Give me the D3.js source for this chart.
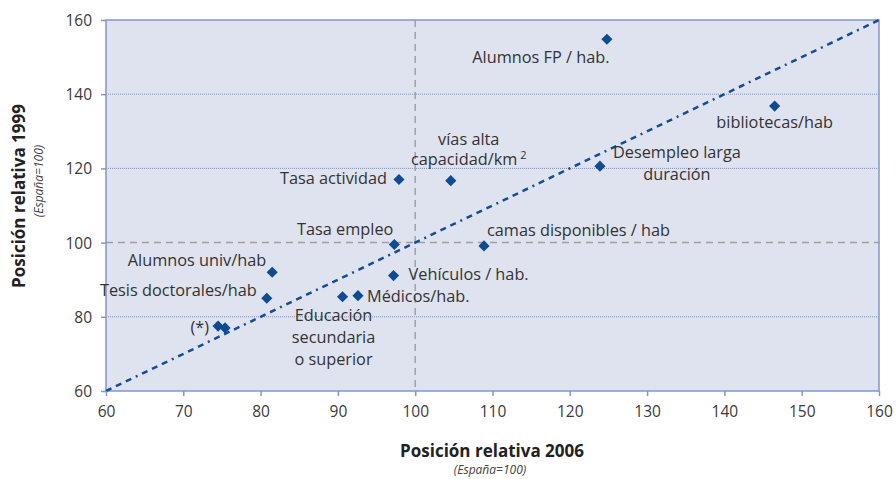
<!DOCTYPE html>
<html>
<head>
<meta charset="utf-8">
<script src="https://cdn.jsdelivr.net/npm/d3@7"></script>
<style>
  body { margin: 0; background: #fff; }
  svg { display: block; font-family: "Open Sans", sans-serif; }
</style>
</head>
<body>
<div id="chart"></div>
<script>
// values
const names = ["Alumnos FP / hab.", "bibliotecas/hab", "Desempleo larga duración", "vías alta capacidad/km2",
  "Tasa actividad", "Tasa empleo", "camas disponibles / hab", "Vehículos / hab.", "Médicos/hab.",
  "Educación secundaria o superior", "Alumnos univ/hab", "Tesis doctorales/hab", "(*) a", "(*) b"]
const pos2006 = [124.8, 146.5, 123.9, 104.6, 97.9, 97.3, 108.9, 97.2, 92.6, 90.6, 81.5, 80.8, 74.5, 75.4]
const pos1999 = [154.8, 136.8, 120.6, 116.7, 117.0, 99.5, 99.1, 91.1, 85.7, 85.4, 92.0, 85.0, 77.5, 77.0]
const labelLines = [["Alumnos FP / hab."], ["bibliotecas/hab"], ["Desempleo larga", "duración"], ["vías alta", "capacidad/km"],
  ["Tasa actividad"], ["Tasa empleo"], ["camas disponibles / hab"], ["Vehículos / hab."], ["Médicos/hab."],
  ["Educación", "secundaria", "o superior"], ["Alumnos univ/hab"], ["Tesis doctorales/hab"], ["(*)"], []]
const xTicks = [60, 70, 80, 90, 100, 110, 120, 130, 140, 150, 160]
const yTicks = [60, 80, 100, 120, 140, 160]

// label placement relative to its point (pixels)
const labelLayout = [
  {dx: -66, dy: 24, anchor: "middle", lh: 22},
  {dx: 0, dy: 22, anchor: "middle", lh: 22},
  {dx: 77, dy: -8, anchor: "middle", lh: 22},
  {dx: 18, dy: -36, anchor: "middle", lh: 20.5},
  {dx: -12, dy: 4, anchor: "end", lh: 22},
  {dx: -1, dy: -9, anchor: "end", lh: 22},
  {dx: 3, dy: -10, anchor: "start", lh: 22},
  {dx: 15, dy: 4, anchor: "start", lh: 22},
  {dx: 9, dy: 6, anchor: "start", lh: 22},
  {dx: -9, dy: 24, anchor: "middle", lh: 22},
  {dx: -6, dy: -6, anchor: "end", lh: 22},
  {dx: -10, dy: -2, anchor: "end", lh: 22},
  {dx: -9, dy: 7, anchor: "end", lh: 22},
  {dx: 0, dy: 0, anchor: "end", lh: 22}
]

const points = names.map((n, i) => ({name: n, x: pos2006[i], y: pos1999[i], lines: labelLines[i], lay: labelLayout[i]}))

const W = 896, H = 479
const pLeft = 106, pRight = 879, pTop = 20, pBottom = 391

const svg = d3.select("#chart").append("svg")
  .attr("width", W)
  .attr("height", H)

const x = d3.scaleLinear().domain([60, 160]).range([pLeft, pRight])
const y = d3.scaleLinear().domain([60, 160]).range([pBottom, pTop])

svg.append("rect")
  .attr("x", pLeft).attr("y", pTop)
  .attr("width", pRight - pLeft).attr("height", pBottom - pTop)
  .attr("fill", "#dfe2ef")

// dotted gridlines
svg.append("g")
  .selectAll("line")
  .data(yTicks.filter(t => t != 60 && t != 160 && t != 100))
  .enter().append("line")
  .attr("x1", pLeft).attr("x2", pRight)
  .attr("y1", d => y(d)).attr("y2", d => y(d))
  .attr("stroke", "#7f91c6")
  .attr("stroke-width", 1)
  .attr("stroke-dasharray", "1,1")

// reference lines at 100
svg.append("line")
  .attr("x1", pLeft).attr("x2", pRight)
  .attr("y1", y(100)).attr("y2", y(100))
  .attr("stroke", "#a0a0a4").attr("stroke-width", 1.5)
  .attr("stroke-dasharray", "7,5")
svg.append("line")
  .attr("x1", x(100)).attr("x2", x(100))
  .attr("y1", pTop).attr("y2", pBottom)
  .attr("stroke", "#a0a0a4").attr("stroke-width", 1.5)
  .attr("stroke-dasharray", "7,5")

// frame
svg.append("rect")
  .attr("x", pLeft).attr("y", pTop)
  .attr("width", pRight - pLeft).attr("height", pBottom - pTop)
  .attr("fill", "none")
  .attr("stroke", "#8396cb")
  .attr("stroke-width", 1.5)

// diagonal y = x
svg.append("path")
  .datum([60, 160])
  .attr("fill", "none")
  .attr("stroke", "#114d99")
  .attr("stroke-width", 2.5)
  .attr("stroke-dasharray", "6,5,6,5,6,5,2,5")
  .attr("d", d3.line().x(d => x(d)).y(d => y(d)))

// axes
const xAxis = svg.append("g")
  .attr("transform", "translate(0," + pBottom + ")")
  .call(d3.axisBottom(x).tickValues(xTicks).tickSize(5).tickPadding(10))
const yAxis = svg.append("g")
  .attr("transform", "translate(" + pLeft + ",0)")
  .call(d3.axisLeft(y).tickValues(yTicks).tickSize(5).tickPadding(9))
;[xAxis, yAxis].forEach(a => {
  a.select(".domain").remove()
  a.selectAll(".tick line").attr("stroke", "#8396cb").attr("stroke-width", 1.5)
  a.selectAll(".tick text")
    .attr("fill", "#3a3a3a")
    .style("font-size", "15.5px")
    .style("font-family", "Open Sans")
})
yAxis.selectAll(".tick text").attr("dy", "0.36em")

// points
svg.append("g")
  .selectAll("path")
  .data(points).enter()
  .append("path")
  .attr("d", d3.symbol().type(d3.symbolSquare).size(62))
  .attr("transform", d => "translate(" + x(d.x) + "," + y(d.y) + ") rotate(45)")
  .attr("fill", "#0f4a94")

// labels
const lbl = svg.append("g")
  .selectAll("text")
  .data(points.filter(d => d.lines.length)).enter()
  .append("text")
  .attr("text-anchor", d => d.lay.anchor)
  .attr("fill", "#333")
  .style("font-size", "16.3px")
lbl.each(function(d){
  const t = d3.select(this)
  d.lines.forEach((ln, j) => {
    t.append("tspan")
      .attr("x", x(d.x) + d.lay.dx)
      .attr("y", y(d.y) + d.lay.dy + j * d.lay.lh)
      .text(ln)
  })
  if (d.name == "vías alta capacidad/km2") {
    t.append("tspan")
      .attr("dx", 3).attr("dy", -6)
      .style("font-size", "11px")
      .text("2")
  }
})

// axis titles
svg.append("text")
  .attr("x", 492).attr("y", 457)
  .attr("text-anchor", "middle")
  .attr("fill", "#222")
  .style("font-size", "17px").style("font-weight", "bold")
  .text("Posición relativa 2006")
svg.append("text")
  .attr("x", 490).attr("y", 474)
  .attr("text-anchor", "middle")
  .attr("fill", "#444")
  .style("font-size", "12px").style("font-style", "italic")
  .text("(España=100)")
svg.append("text")
  .attr("transform", "translate(25,196) rotate(-90)")
  .attr("text-anchor", "middle")
  .attr("fill", "#222")
  .style("font-size", "17px").style("font-weight", "bold")
  .text("Posición relativa 1999")
svg.append("text")
  .attr("transform", "translate(43,181) rotate(-90)")
  .attr("text-anchor", "middle")
  .attr("fill", "#444")
  .style("font-size", "12px").style("font-style", "italic")
  .text("(España=100)")
</script>
</body>
</html>
